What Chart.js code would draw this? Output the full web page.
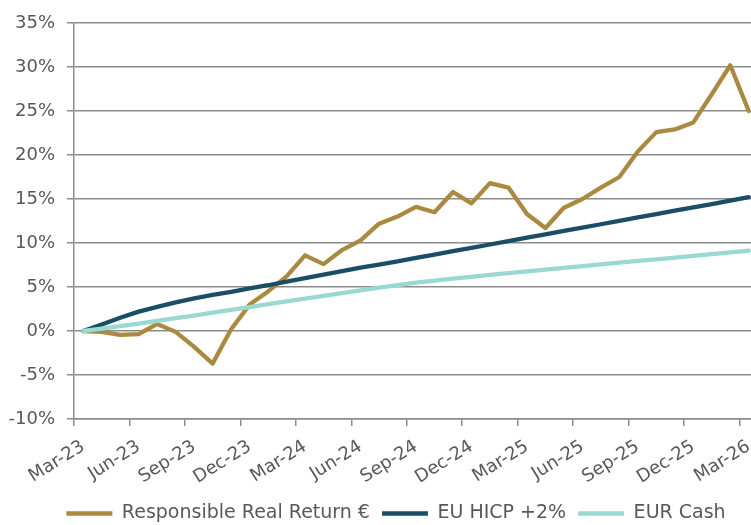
<!DOCTYPE html>
<html>
<head>
<meta charset="utf-8">
<script src="https://cdn.jsdelivr.net/npm/chart.js@4.4.1/dist/chart.umd.min.js"></script>
<style>
  html, body { margin: 0; padding: 0; background: #fff; overflow: hidden; }
  #wrap { position: relative; width: 758px; height: 533px; }
</style>
</head>
<body>
<div id="wrap"><canvas id="chart"></canvas></div>
<script>
// month-end categories, Mar-23 .. Mar-26
const months = [
  'Mar-23', 'Apr-23', 'May-23', 'Jun-23', 'Jul-23', 'Aug-23', 'Sep-23', 'Oct-23', 'Nov-23', 'Dec-23',
  'Jan-24', 'Feb-24', 'Mar-24', 'Apr-24', 'May-24', 'Jun-24', 'Jul-24', 'Aug-24', 'Sep-24', 'Oct-24',
  'Nov-24', 'Dec-24', 'Jan-25', 'Feb-25', 'Mar-25', 'Apr-25', 'May-25', 'Jun-25', 'Jul-25', 'Aug-25',
  'Sep-25', 'Oct-25', 'Nov-25', 'Dec-25', 'Jan-26', 'Feb-26', 'Mar-26'
];
const xTickLabels = ['Mar-23', 'Jun-23', 'Sep-23', 'Dec-23', 'Mar-24', 'Jun-24', 'Sep-24',
  'Dec-24', 'Mar-25', 'Jun-25', 'Sep-25', 'Dec-25', 'Mar-26'];
const yTicks = [-10, -5, 0, 5, 10, 15, 20, 25, 30, 35];

// cumulative return, %
const responsible = [0, -0.1, -0.45, -0.35, 0.8, -0.1, -1.8, -3.7, 0.2, 3.0, 4.5, 6.2, 8.6, 7.6, 9.2,
  10.3, 12.2, 13.0, 14.1, 13.5, 15.8, 14.5, 16.8, 16.3, 13.3, 11.7, 14.0, 15.0, 16.3, 17.5, 20.4,
  22.6, 22.9, 23.7, 26.9, 30.2, 25.0];
const hicpPlus2 = [0, 0.75, 1.5, 2.2, 2.75, 3.25, 3.7, 4.1, 4.45, 4.85, 5.2, 5.6, 6.0, 6.4, 6.8,
  7.2, 7.55, 7.9, 8.3, 8.68, 9.07, 9.45, 9.83, 10.22, 10.6, 10.98, 11.37, 11.75, 12.13, 12.52, 12.9,
  13.28, 13.67, 14.05, 14.43, 14.82, 15.2];
const eurCash = [0, 0.27, 0.55, 0.84, 1.14, 1.45, 1.76, 2.08, 2.4, 2.72, 3.04, 3.36, 3.68, 4.0, 4.31,
  4.62, 4.92, 5.21, 5.49, 5.72, 5.94, 6.16, 6.37, 6.58, 6.78, 6.98, 7.18, 7.38, 7.58, 7.77, 7.96,
  8.15, 8.34, 8.53, 8.73, 8.93, 9.12];

const textGray = '#595959';
const gridGray = '#8c8c8c';

Chart.defaults.font.family = "'DejaVu Sans', Verdana, sans-serif";
Chart.defaults.font.size = 18;
Chart.defaults.color = textGray;

// legend in the original sits a little right of the canvas centre
const nudgeLegend = {
  id: 'nudgeLegend',
  afterLayout(chart) {
    if (chart.legend) {
      chart.legend.left += 17;
      chart.legend.right += 17;
    }
  },
};

const ctx = document.getElementById('chart').getContext('2d');

const lineDs = (label, data, color, order) => ({
  label: label,
  data: data,
  borderColor: color,
  backgroundColor: color,
  borderWidth: 4.3,
  borderCapStyle: 'round',
  borderJoinStyle: 'round',
  pointRadius: 0,
  pointStyle: 'line',
  tension: 0,
  fill: false,
  order: order,
});

new Chart(ctx, {
  type: 'line',
  data: {
    labels: months,
    datasets: [
      lineDs('Responsible Real Return €', responsible, '#aa8a41', 3),
      lineDs('EU HICP +2%', hicpPlus2, '#1a4e66', 2),
      lineDs('EUR Cash', eurCash, '#9ad8d2', 1),
    ],
  },
  plugins: [nudgeLegend],
  options: {
    responsive: true,
    maintainAspectRatio: false,
    animation: false,
    layout: { padding: { top: 23, left: 0, right: 0, bottom: 0 } },
    plugins: {
      tooltip: { enabled: false },
      legend: {
        position: 'bottom',
        labels: {
          usePointStyle: true,
          pointStyle: 'line',
          pointStyleWidth: 46,
          padding: 12,
          color: textGray,
          font: { size: 19 },
          sort: (a, b) => a.datasetIndex - b.datasetIndex,
        },
      },
    },
    scales: {
      x: {
        offset: true,
        grid: {
          offset: true,
          drawOnChartArea: false,
          drawTicks: true,
          tickLength: 7,
          lineWidth: 1.5,
          tickColor: (c) => (c.index % 3 === 0 ? gridGray : 'rgba(0,0,0,0)'),
        },
        border: { display: true, color: gridGray, width: 1.5 },
        ticks: {
          autoSkip: false,
          minRotation: 32,
          maxRotation: 32,
          padding: 10,
          color: textGray,
          callback: function (v) {
            const l = this.getLabelForValue(v);
            return xTickLabels.includes(l) ? l : '';
          },
        },
        afterFit: (s) => { s.height = 73; s.paddingLeft = 0; s.paddingRight = 0; },
      },
      y: {
        min: -10,
        max: 35,
        afterBuildTicks: (s) => { s.ticks = yTicks.map((v) => ({ value: v })); },
        ticks: { padding: 12, color: textGray, callback: (v) => v + '%' },
        grid: { color: gridGray, lineWidth: 1.5, tickLength: 7, drawTicks: true },
        border: { display: true, color: gridGray, width: 1.5 },
        afterFit: (s) => { s.width = 74; },
      },
    },
  },
});
</script>
</body>
</html>
